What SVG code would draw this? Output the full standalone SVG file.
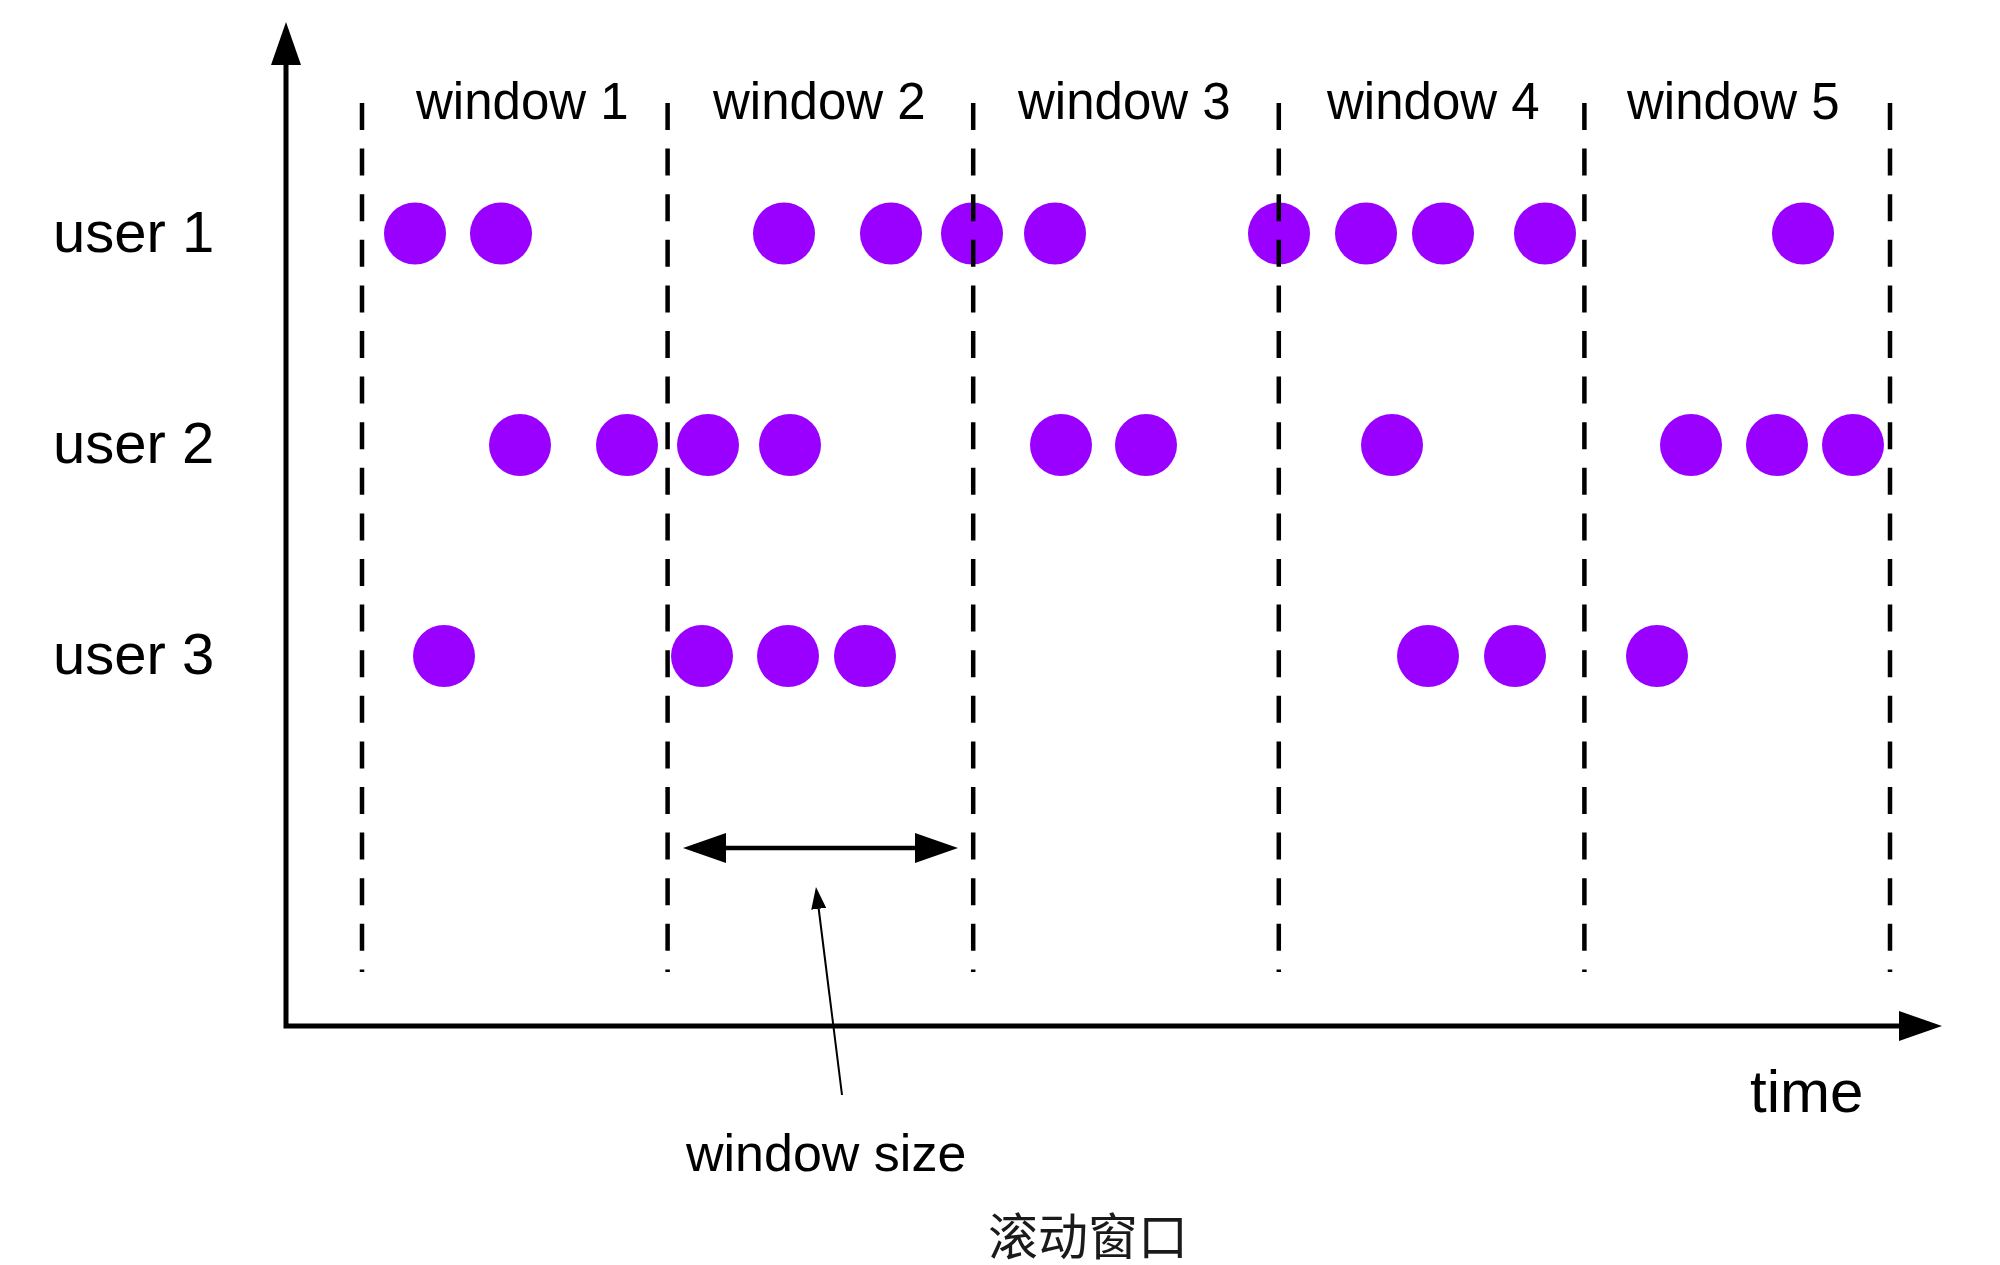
<svg xmlns="http://www.w3.org/2000/svg" width="2000" height="1265" viewBox="0 0 2000 1265">
  <style>
    .lbl { font-family: "Liberation Sans", Arial, sans-serif; fill: #000; }
    .win { font-size: 51px; }
    .usr { font-size: 58px; }
    .cap { font-family: "Noto Sans CJK SC", sans-serif; font-size: 50px; fill: #1a1a1a; }
    .ev { fill: #9900ff; }
    .dash { stroke: #000; stroke-width: 4.5; stroke-dasharray: 27 18.6; fill: none; }
    .axis { stroke: #000; stroke-width: 5; fill: none; stroke-linejoin: miter; }
    .thin { stroke: #000; stroke-width: 2; fill: none; }
  </style>
  <defs>
    <marker id="bigHead" markerUnits="userSpaceOnUse" viewBox="0 0 43 30" refX="0" refY="15" markerWidth="43" markerHeight="30" orient="auto-start-reverse">
      <path d="M0,0 L43,15 L0,30 z" fill="#000"/>
    </marker>
    <marker id="smallHead" markerUnits="userSpaceOnUse" viewBox="0 0 22 15" refX="0" refY="7.5" markerWidth="22" markerHeight="15" orient="auto">
      <path d="M0,0 L22,7.5 L0,15 z" fill="#000"/>
    </marker>
  </defs>
  <rect width="2000" height="1265" fill="#fff"/>

  <g id="events">
    <g id="user1-events">
      <circle class="ev" cx="415" cy="233.5" r="31"/>
      <circle class="ev" cx="501" cy="233.5" r="31"/>
      <circle class="ev" cx="784" cy="233.5" r="31"/>
      <circle class="ev" cx="891" cy="233.5" r="31"/>
      <circle class="ev" cx="972" cy="233.5" r="31"/>
      <circle class="ev" cx="1055" cy="233.5" r="31"/>
      <circle class="ev" cx="1279" cy="233.5" r="31"/>
      <circle class="ev" cx="1366" cy="233.5" r="31"/>
      <circle class="ev" cx="1443" cy="233.5" r="31"/>
      <circle class="ev" cx="1545" cy="233.5" r="31"/>
      <circle class="ev" cx="1803" cy="233.5" r="31"/>
    </g>
    <g id="user2-events">
      <circle class="ev" cx="520" cy="445" r="31"/>
      <circle class="ev" cx="627" cy="445" r="31"/>
      <circle class="ev" cx="708" cy="445" r="31"/>
      <circle class="ev" cx="790" cy="445" r="31"/>
      <circle class="ev" cx="1061" cy="445" r="31"/>
      <circle class="ev" cx="1146" cy="445" r="31"/>
      <circle class="ev" cx="1392" cy="445" r="31"/>
      <circle class="ev" cx="1691" cy="445" r="31"/>
      <circle class="ev" cx="1777" cy="445" r="31"/>
      <circle class="ev" cx="1853" cy="445" r="31"/>
    </g>
    <g id="user3-events">
      <circle class="ev" cx="444" cy="656" r="31"/>
      <circle class="ev" cx="702" cy="656" r="31"/>
      <circle class="ev" cx="788" cy="656" r="31"/>
      <circle class="ev" cx="865" cy="656" r="31"/>
      <circle class="ev" cx="1428" cy="656" r="31"/>
      <circle class="ev" cx="1515" cy="656" r="31"/>
      <circle class="ev" cx="1657" cy="656" r="31"/>
    </g>
  </g>

  <g id="window-boundaries">
    <line class="dash" x1="362" y1="103" x2="362" y2="972"/>
    <line class="dash" x1="667.6" y1="103" x2="667.6" y2="972"/>
    <line class="dash" x1="973.2" y1="103" x2="973.2" y2="972"/>
    <line class="dash" x1="1278.8" y1="103" x2="1278.8" y2="972"/>
    <line class="dash" x1="1584.4" y1="103" x2="1584.4" y2="972"/>
    <line class="dash" x1="1890" y1="103" x2="1890" y2="972"/>
  </g>

  <g id="connectors">
    <path id="axes" class="axis" d="M286,65 L286,1026 L1899,1026" marker-start="url(#bigHead)" marker-end="url(#bigHead)"/>
    <path id="window-size-arrow" class="axis" style="stroke-width:4.5" d="M726,848 L915,848" marker-start="url(#bigHead)" marker-end="url(#bigHead)"/>
    <path id="pointer" class="thin" d="M842,1095 L818.7,908.8" marker-end="url(#smallHead)"/>
  </g>

  <g id="window-labels">
    <text class="lbl win" x="416" y="119">window 1</text>
    <text class="lbl win" x="713" y="119">window 2</text>
    <text class="lbl win" x="1018" y="119">window 3</text>
    <text class="lbl win" x="1327" y="119">window 4</text>
    <text class="lbl win" x="1627" y="119">window 5</text>
  </g>

  <g id="user-labels">
    <text class="lbl usr" x="53" y="252">user 1</text>
    <text class="lbl usr" x="53" y="463">user 2</text>
    <text class="lbl usr" x="53" y="674">user 3</text>
  </g>

  <g id="time-label">
    <text class="lbl" style="font-size:60px" x="1750" y="1112">time</text>
  </g>
  <g id="window-size-label">
    <text class="lbl" style="font-size:52px" x="686" y="1171">window size</text>
  </g>
  <g id="caption">
    <text class="cap" x="988" y="1255">滚动窗口</text>
  </g>
</svg>
